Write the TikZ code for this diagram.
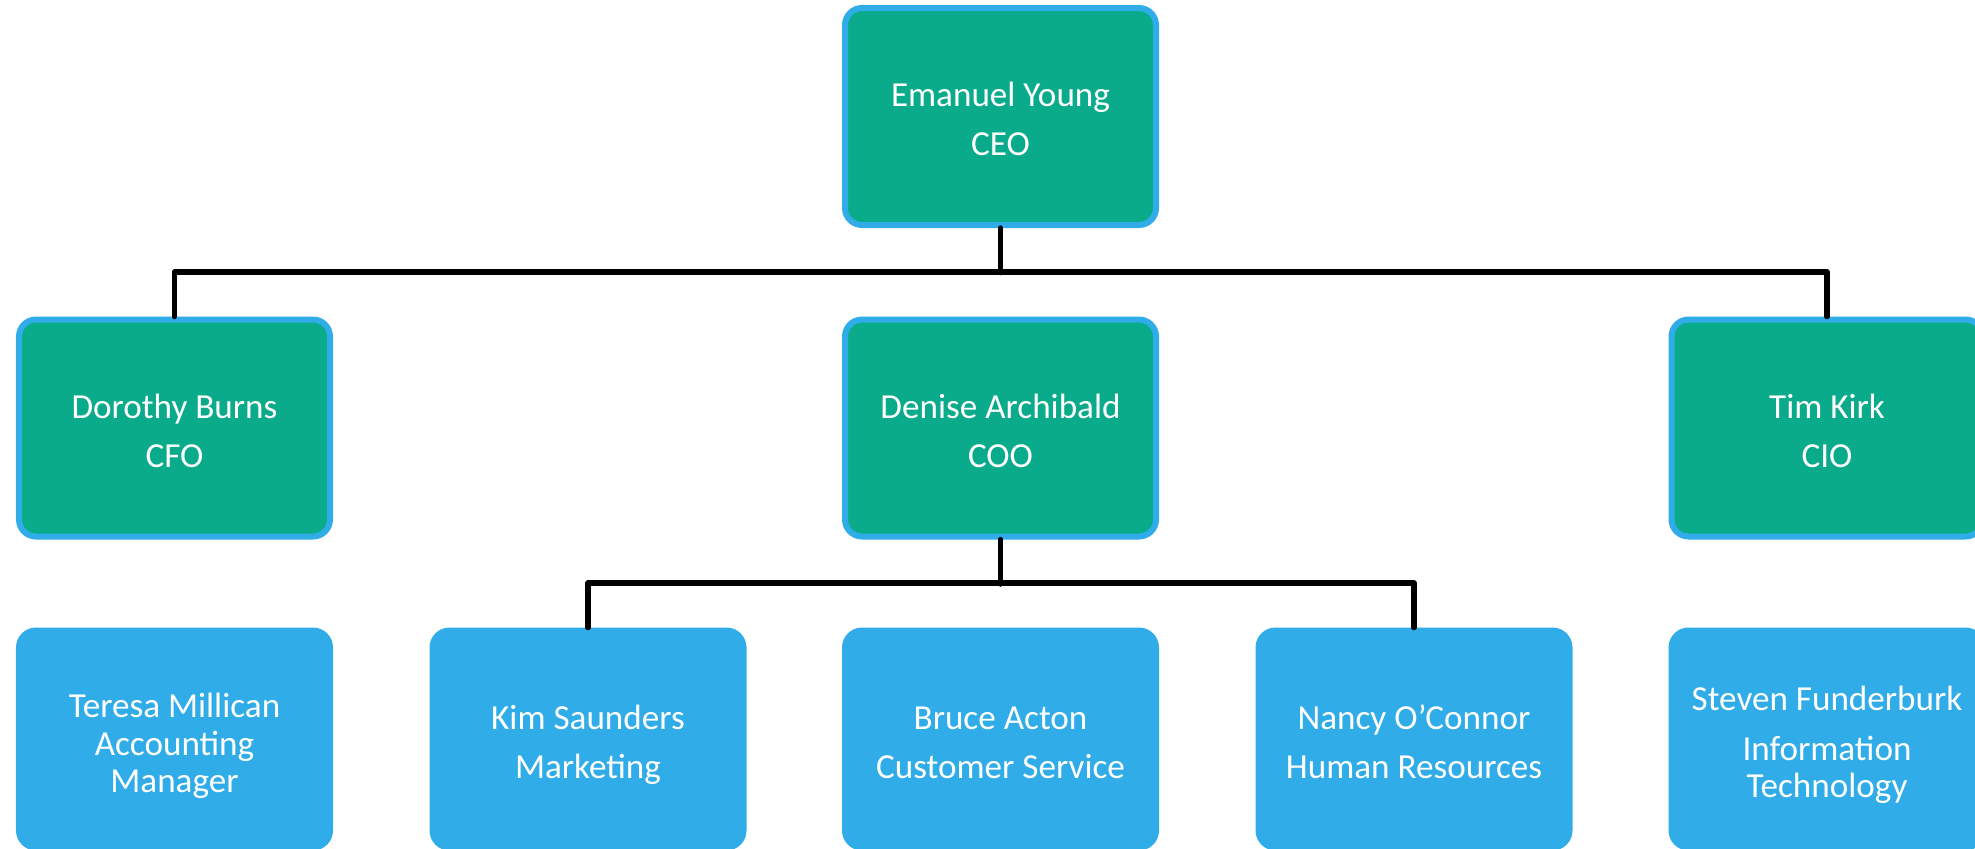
\documentclass[tikz,border=0pt]{standalone}
\usepackage{fontspec}
\setmainfont{Carlito}
\definecolor{boxgreen}{RGB}{10,171,138}
\definecolor{boxblue}{RGB}{48,172,232}

\begin{document}
\begin{tikzpicture}[
    chief/.style={draw=boxblue, fill=boxgreen, line width=.06cm, rounded corners=.17cm,
        minimum width=3.11cm, minimum height=2.17cm, inner sep=0pt, align=center,
        text=white, font=\fontsize{10}{13.9}\selectfont, text height=22.2pt, text depth=0pt},
    staff/.style={chief, fill=boxblue},
    link/.style={line width=.055cm, line cap=round, line join=round}]

\useasboundingbox (0,0) rectangle (19.75,-8.48);

% top
\node[chief] (ceo) at (10.005,-1.165) {Emanuel Young\\CEO};

% chiefs
\node[chief] (cfo) at (1.745,-4.28) {Dorothy Burns\\CFO};
\node[chief] (coo) at (10.005,-4.28) {Denise Archibald\\COO};
\node[chief] (cio) at (18.27,-4.28) {Tim Kirk\\CIO};

% staff
\node[staff, font=\fontsize{10}{10.7}\selectfont, text height=30.7pt] (teresa) at (1.745,-7.39) {Teresa Millican\\Accounting\\Manager};
\node[staff] (kim) at (5.88,-7.39) {Kim Saunders\\Marketing};
\node[staff] (bruce) at (10.005,-7.39) {Bruce Acton\\Customer Service};
\node[staff] (nancy) at (14.14,-7.39) {Nancy O’Connor\\Human Resources};
\node[staff, font=\fontsize{10}{10.5}\selectfont, text height=33pt] (steven) at (18.27,-7.39) {Steven Funderburk\\[3.7pt]Information\\Technology};

% lines
\draw[link] (ceo.south) -- ++(0,-.445);
\draw[link] (cfo.north) -- ++(0,.445) -| (cio.north);
\draw[link] (coo.south) -- ++(0,-.445);
\draw[link] (kim.north) -- ++(0,.445) -| (nancy.north);

\end{tikzpicture}
\end{document}
